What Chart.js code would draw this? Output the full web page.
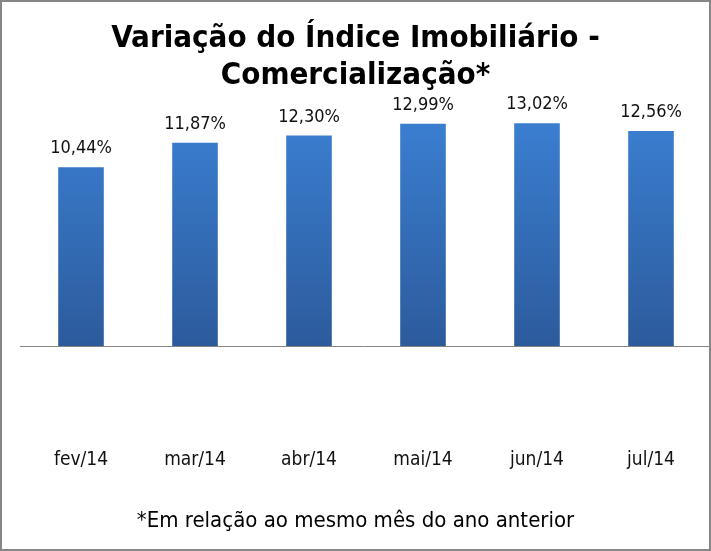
<!DOCTYPE html>
<html>
<head>
<meta charset="utf-8">
<script src="https://cdn.jsdelivr.net/npm/chart.js@4"></script>
<style>
  html, body { margin: 0; padding: 0; background: #fff; }
  #wrap { width: 711px; height: 551px; position: relative; }
  canvas { display: block; }
</style>
</head>
<body>
<div id="wrap"><canvas id="c" width="711" height="551"></canvas></div>
<script>
const categories = ['fev/14', 'mar/14', 'abr/14', 'mai/14', 'jun/14', 'jul/14'];
const values = [10.44, 11.87, 12.30, 12.99, 13.02, 12.56];
const titleLines = ['Variação do Índice Imobiliário -', 'Comercialização*'];
const footnote = '*Em relação ao mesmo mês do ano anterior';

const FONT = "'DejaVu Sans Condensed', 'Liberation Sans Narrow', sans-serif";

function fmt(v) { return v.toFixed(2).replace('.', ',') + '%'; }

const frameAndLabels = {
  id: 'frameAndLabels',
  beforeDraw(chart) {
    const ctx = chart.ctx;
    ctx.save();
    ctx.fillStyle = '#fff';
    ctx.fillRect(0, 0, chart.width, chart.height);
    ctx.restore();
  },
  beforeDatasetsDraw(chart) {
    const ctx = chart.ctx;
    const y0 = Math.round(chart.scales.y.getPixelForValue(0)) + 0.5;
    ctx.save();
    ctx.strokeStyle = '#858585';
    ctx.lineWidth = 1;
    ctx.beginPath();
    ctx.moveTo(20, y0);
    ctx.lineTo(chart.width - 2, y0);
    ctx.stroke();
    ctx.restore();
  },
  afterDatasetsDraw(chart) {
    const ctx = chart.ctx;
    const meta = chart.getDatasetMeta(0);
    ctx.save();
    ctx.font = '18px ' + FONT;
    ctx.fillStyle = '#111';
    ctx.textAlign = 'center';
    ctx.textBaseline = 'alphabetic';
    meta.data.forEach((bar, i) => {
      ctx.fillText(fmt(values[i]), bar.x, bar.y - 14);
    });
    ctx.restore();
  },
  afterDraw(chart) {
    const ctx = chart.ctx;
    ctx.save();
    ctx.strokeStyle = '#868686';
    ctx.lineWidth = 2;
    ctx.strokeRect(1, 1, chart.width - 2, chart.height - 2);
    ctx.restore();
  }
};

const ctx = document.getElementById('c').getContext('2d');
new Chart(ctx, {
  type: 'bar',
  data: {
    labels: categories,
    datasets: [{
      data: values,
      backgroundColor(context) {
        const chart = context.chart;
        const area = chart.chartArea;
        if (!area) return '#3572c0';
        const ys = chart.scales.y;
        const top = ys.getPixelForValue(13.5);
        const bot = ys.getPixelForValue(0);
        const g = chart.ctx.createLinearGradient(0, top, 0, bot);
        g.addColorStop(0, '#3b7fd2');
        g.addColorStop(1, '#2c5b9c');
        return g;
      },
      borderWidth: 0,
      categoryPercentage: 0.8,
      barPercentage: 0.5
    }]
  },
  options: {
    responsive: false,
    animation: false,
    layout: { padding: { top: 10, left: 3, right: 3, bottom: 8 } },
    plugins: {
      legend: { display: false },
      tooltip: { enabled: false },
      title: {
        display: true,
        text: titleLines,
        color: '#000',
        font: { family: FONT, size: 31, weight: 'bold', lineHeight: 1.2 },
        padding: { top: 10, bottom: 12 }
      },
      subtitle: {
        display: true,
        position: 'bottom',
        text: footnote,
        color: '#000',
        font: { family: FONT, size: 22, weight: 'normal', lineHeight: 1.2 },
        padding: { top: 36, bottom: 9 }
      }
    },
    scales: {
      x: {
        grid: { display: false, drawTicks: false },
        border: { display: false },
        ticks: { color: '#111', font: { family: FONT, size: 19 }, padding: 0 }
      },
      y: {
        display: true,
        min: -6,
        max: 14,
        grid: { display: false, drawTicks: false },
        border: { display: false },
        ticks: { display: false },
        afterFit(scale) { scale.width = 21; }
      }
    }
  },
  plugins: [frameAndLabels]
});
</script>
</body>
</html>
